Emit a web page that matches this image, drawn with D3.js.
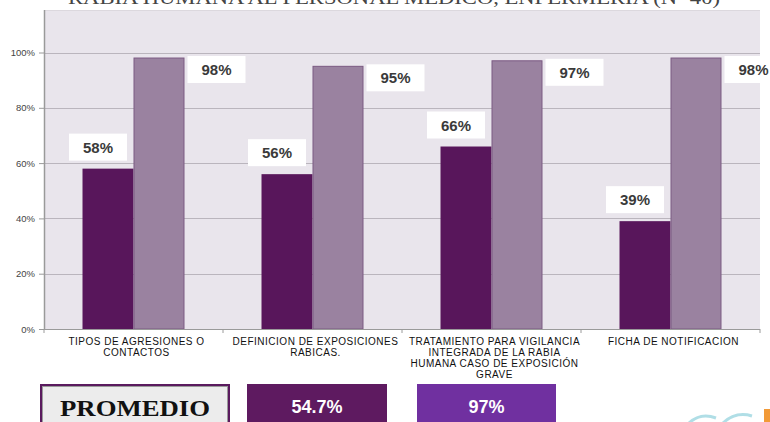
<!DOCTYPE html>
<html>
<head>
<meta charset="utf-8">
<script src="https://cdn.jsdelivr.net/npm/d3@7"></script>
<style>
  html, body { margin: 0; padding: 0; background: #ffffff; overflow: hidden; }
  svg { display: block; }
</style>
</head>
<body>
<svg width="770" height="422"></svg>
<script>
// chart data
const titleText = 'RABIA HUMANA AL PERSONAL MEDICO, ENFERMERIA (N=40)';
const categories = [
    ['TIPOS DE AGRESIONES O', 'CONTACTOS'],
    ['DEFINICION DE EXPOSICIONES', 'RABICAS.'],
    ['TRATAMIENTO PARA VIGILANCIA', 'INTEGRADA DE LA RABIA', 'HUMANA CASO DE  EXPOSICIÓN', 'GRAVE'],
    ['FICHA DE NOTIFICACION']
];
const seriesBefore = [58, 56, 66, 39];
const seriesAfter = [98, 95, 97, 98];
const yTicks = [0, 20, 40, 60, 80, 100];
const averageLabel = 'PROMEDIO';
const averages = ['54.7%', '97%'];

class Chart {
    constructor() {
        this.svg = d3.select('svg');
        this.margin = { top: 10, right: 10, bottom: 93, left: 44 }; // plot panel edges
        this.plotTop = 52.5; // where 100% sits
        this.colors = { before: '#58165b', after: '#9a82a0', afterEdge: '#7b5a82', panel: '#e9e5ec', grid: '#bab5bd' };
    }

    draw = () => {
        this.setScales();
        this.drawTitle();
        this.drawPanel();
        this.drawGrid();
        this.drawBars();
        this.drawValueLabels();
        this.drawXAxis();
        this.drawYAxis();
        this.drawAverages();
        this.drawCornerLogo();
    }

    setScales = () => {
        this.x = d3.scaleBand()
            .domain(d3.range(categories.length))
            .range([this.margin.left, 760]);
        // two bars inside each category
        this.xSub = d3.scaleBand()
            .domain(['before', 'after'])
            .range([0, this.x.bandwidth()])
            .paddingOuter(0.755);
        this.y = d3.scaleLinear().domain([0, 100]).range([329, this.plotTop]);
    }

    drawTitle = () => {
        // title is cut off by the top of the picture, as in the original
        this.svg.append('text')
            .attr('x', 68).attr('y', 4)
            .attr('textLength', 652).attr('lengthAdjust', 'spacingAndGlyphs')
            .style('font-family', '"Liberation Serif", "DejaVu Serif", serif')
            .style('font-size', '18px')
            .style('fill', '#444')
            .text(titleText);
    }

    drawPanel = () => {
        this.svg.append('rect')
            .attr('x', this.margin.left).attr('y', this.margin.top)
            .attr('width', 760 - this.margin.left)
            .attr('height', this.y(0) - this.margin.top)
            .attr('fill', this.colors.panel);
        this.svg.append('line')
            .attr('x1', this.margin.left).attr('x2', 760)
            .attr('y1', this.margin.top + 0.5).attr('y2', this.margin.top + 0.5)
            .attr('stroke', '#dcd8de');
    }

    drawGrid = () => {
        this.svg.append('g')
            .selectAll('line')
            .data(yTicks.filter(d => d > 0))
            .join('line')
            .attr('x1', this.margin.left).attr('x2', 760)
            .attr('y1', d => Math.round(this.y(d)) + 0.5)
            .attr('y2', d => Math.round(this.y(d)) + 0.5)
            .attr('stroke', this.colors.grid)
            .attr('stroke-width', 1.2);
    }

    drawBars = () => {
        const groups = this.svg.append('g')
            .selectAll('g')
            .data(categories.map((c, i) => i))
            .join('g')
            .attr('transform', i => `translate(${this.x(i)},0)`);

        groups.append('rect')
            .attr('x', this.xSub('before'))
            .attr('y', i => this.y(seriesBefore[i]))
            .attr('width', this.xSub.bandwidth())
            .attr('height', i => this.y(0) - this.y(seriesBefore[i]))
            .attr('fill', this.colors.before);

        groups.append('rect')
            .attr('x', this.xSub('after') + 0.5)
            .attr('y', i => this.y(seriesAfter[i]))
            .attr('width', this.xSub.bandwidth() - 1)
            .attr('height', i => this.y(0) - this.y(seriesAfter[i]))
            .attr('fill', this.colors.after)
            .attr('stroke', this.colors.afterEdge)
            .attr('stroke-width', 1);
    }

    drawValueLabels = () => {
        const font = '"Liberation Sans", Arial, sans-serif';
        const label = (cx, top, txt) => {
            const g = this.svg.append('g');
            g.append('rect')
                .attr('x', cx - 29).attr('y', top)
                .attr('width', 58).attr('height', 27)
                .attr('fill', '#ffffff');
            g.append('text')
                .attr('x', cx).attr('y', top + 19)
                .attr('text-anchor', 'middle')
                .style('font-family', font)
                .style('font-size', '15px')
                .style('font-weight', 'bold')
                .style('fill', '#3a3a3a')
                .text(txt);
        };
        categories.forEach((c, i) => {
            const bx = this.x(i) + this.xSub('before') + this.xSub.bandwidth() / 2 - 10;
            label(bx, this.y(seriesBefore[i]) - 35, seriesBefore[i] + '%');
            const ax = this.x(i) + this.xSub('after') + this.xSub.bandwidth() + 32;
            label(ax, this.y(seriesAfter[i]) - 2, seriesAfter[i] + '%');
        });
    }

    drawXAxis = () => {
        const y0 = this.y(0);
        const edges = categories.map((c, i) => this.x(i)).concat([this.x.range()[1]]);
        const axis = this.svg.append('g');
        axis.append('line')
            .attr('x1', this.margin.left).attr('x2', 760)
            .attr('y1', y0 + 0.5).attr('y2', y0 + 0.5)
            .attr('stroke', '#9a9a9a').attr('stroke-width', 1.2);
        axis.selectAll('line.tick')
            .data(edges)
            .join('line')
            .attr('class', 'tick')
            .attr('x1', d => d).attr('x2', d => d)
            .attr('y1', y0).attr('y2', y0 + 4)
            .attr('stroke', '#9a9a9a');

        const labels = axis.selectAll('text')
            .data(categories)
            .join('text')
            .attr('text-anchor', 'middle')
            .style('font-family', '"Liberation Sans", Arial, sans-serif')
            .style('font-size', '10px')
            .style('letter-spacing', '0.5px')
            .style('fill', '#111');
        labels.selectAll('tspan')
            .data((d, i) => d.map(line => ({ line, i })))
            .join('tspan')
            .attr('x', d => this.x(d.i) + this.x.bandwidth() / 2 + 3)
            .attr('y', (d, j) => y0 + 16 + j * 11)
            .text(d => d.line);
    }

    drawYAxis = () => {
        const yAxis = d3.axisLeft(this.y)
            .tickValues(yTicks)
            .tickFormat(d => d + '%')
            .tickSize(5)
            .tickPadding(4);
        const g = this.svg.append('g')
            .attr('transform', `translate(${this.margin.left},0)`)
            .call(yAxis);
        g.select('.domain')
            .attr('stroke', '#9a9a9a').attr('stroke-width', 1.5)
            .attr('d', `M0.5,${this.margin.top}V${this.y(0)}`);
        g.selectAll('.tick line').attr('stroke', '#9a9a9a');
        g.selectAll('.tick text')
            .style('font-family', '"Liberation Sans", Arial, sans-serif')
            .style('font-size', '9.5px')
            .style('fill', '#444');
    }

    drawAverages = () => {
        const top = 384;
        // "PROMEDIO" box
        this.svg.append('rect')
            .attr('x', 40).attr('y', top)
            .attr('width', 190).attr('height', 50)
            .attr('fill', '#5a1a5e');
        this.svg.append('rect')
            .attr('x', 42.5).attr('y', top + 2.5)
            .attr('width', 185).attr('height', 50)
            .attr('fill', '#ececec')
            .attr('stroke', '#9a9a9a').attr('stroke-width', 1);
        this.svg.append('text')
            .attr('x', 60).attr('y', 416)
            .attr('textLength', 150).attr('lengthAdjust', 'spacingAndGlyphs')
            .style('font-family', '"Liberation Serif", "DejaVu Serif", serif')
            .style('font-size', '24px')
            .style('font-weight', 'bold')
            .style('fill', '#111')
            .text(averageLabel);

        const boxes = [
            { x0: 247, x1: 387, fill: '#5e1a60' },
            { x0: 417, x1: 556, fill: '#7030a0' }
        ];
        boxes.forEach((b, i) => {
            this.svg.append('rect')
                .attr('x', b.x0).attr('y', top)
                .attr('width', b.x1 - b.x0).attr('height', 50)
                .attr('fill', b.fill);
            this.svg.append('text')
                .attr('x', (b.x0 + b.x1) / 2).attr('y', 413)
                .attr('text-anchor', 'middle')
                .style('font-family', '"Liberation Sans", Arial, sans-serif')
                .style('font-size', '18px')
                .style('font-weight', 'bold')
                .style('fill', '#ffffff')
                .text(averages[i]);
        });
    }

    drawCornerLogo = () => {
        // partial logo cut by the corner of the picture
        const g = this.svg.append('g');
        g.append('path')
            .attr('d', 'M688,424 Q700,412 716,418 M722,424 Q735,411 752,416')
            .attr('fill', 'none')
            .attr('stroke', '#8fd0dc')
            .attr('stroke-width', 3)
            .attr('opacity', 0.7);
        g.append('rect')
            .attr('x', 764).attr('y', 409)
            .attr('width', 8).attr('height', 14)
            .attr('fill', '#f29a38');
    }
}

new Chart().draw();
</script>
</body>
</html>
